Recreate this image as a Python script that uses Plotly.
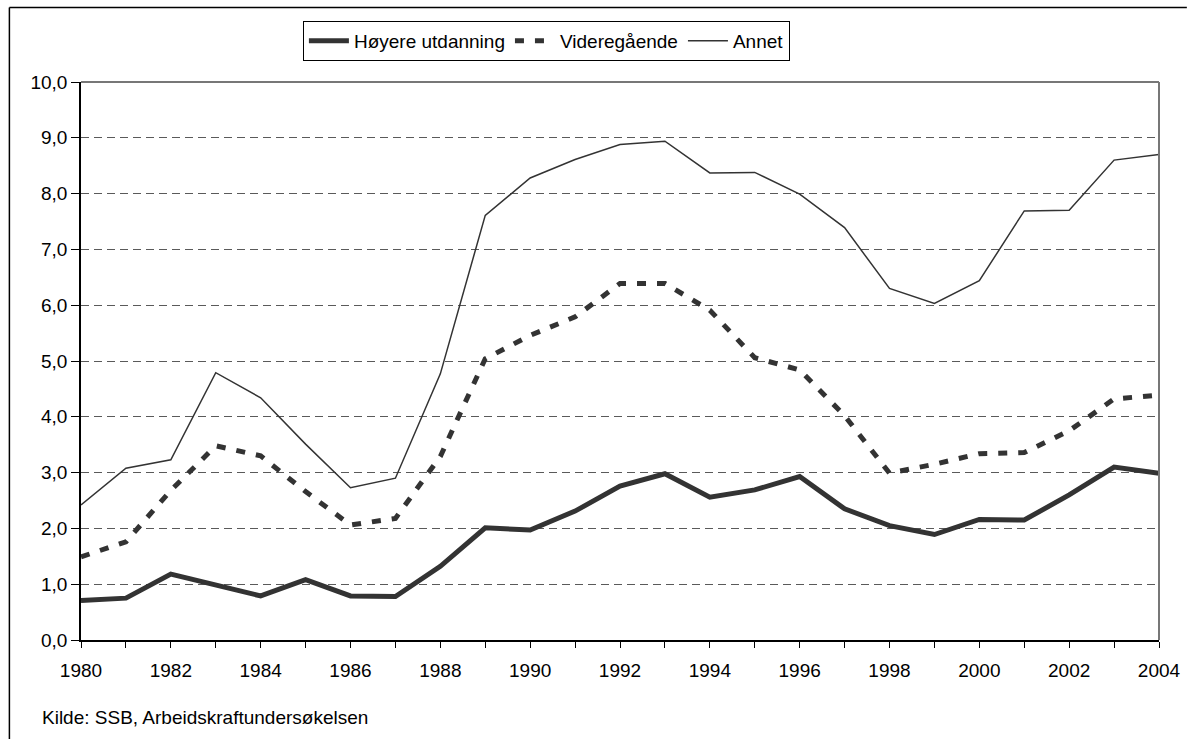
import plotly.graph_objects as go

years = list(range(1980, 2005))
hoyere = [0.71, 0.75, 1.18, 0.99, 0.79, 1.08, 0.79, 0.78, 1.32, 2.01, 1.97, 2.31, 2.76, 2.98,
          2.56, 2.69, 2.93, 2.35, 2.05, 1.89, 2.16, 2.15, 2.60, 3.10, 2.99]
videregaende = [1.49, 1.76, 2.68, 3.48, 3.30, 2.66, 2.06, 2.18, 3.29, 5.04, 5.46, 5.79, 6.39, 6.39,
                5.91, 5.06, 4.84, 4.02, 2.99, 3.15, 3.34, 3.36, 3.75, 4.32, 4.39]
annet = [2.42, 3.08, 3.23, 4.79, 4.34, 3.51, 2.73, 2.90, 4.77, 7.61, 8.28, 8.61, 8.88, 8.94,
         8.37, 8.38, 7.99, 7.39, 6.30, 6.03, 6.44, 7.69, 7.70, 8.60, 8.70]

series_names = ["Høyere utdanning", "Videregående", "Annet"]
y_tickvals = [0, 1, 2, 3, 4, 5, 6, 7, 8, 9, 10]
y_ticktext = ["0,0", "1,0", "2,0", "3,0", "4,0", "5,0", "6,0", "7,0", "8,0", "9,0", "10,0"]
x_ticktext = [str(y) if y % 2 == 0 else "" for y in years]
source = "Kilde: SSB, Arbeidskraftundersøkelsen"

FONT = "Liberation Sans, Arial, sans-serif"
LC = "#333333"
FS = 19

fig = go.Figure()
fig.add_trace(go.Scatter(x=years, y=hoyere, name=series_names[0], mode="lines",
                         line=dict(color=LC, width=5)))
fig.add_trace(go.Scatter(x=years, y=videregaende, name=series_names[1], mode="lines",
                         line=dict(color=LC, width=5, dash="9px,11px")))
fig.add_trace(go.Scatter(x=years, y=annet, name=series_names[2], mode="lines",
                         line=dict(color=LC, width=1.5)))

# body margin is removed in the page, so figure pixels equal page pixels
W, H = 1193, 739
L, R, T, B = 81, 1165, 82, 640


def px(xp):
    return (xp - L) / (R - L)


def py(yp):
    return (B - yp) / (B - T)


fig.update_layout(
    width=W, height=H,
    margin=dict(l=L, r=W - R, t=T, b=H - B),
    paper_bgcolor="white", plot_bgcolor="white",
    font=dict(family=FONT, size=FS, color="black"),
    showlegend=True,
    legend=dict(orientation="h", x=px(549), xanchor="center", y=py(21), yanchor="top",
                bordercolor="black", borderwidth=1, bgcolor="white",
                font=dict(size=FS), itemwidth=40, tracegroupgap=0),
    xaxis=dict(range=[1980, 2004], tickvals=years, ticktext=x_ticktext,
               ticks="outside", ticklen=6, tickcolor="black", tickwidth=1,
               ticklabelstandoff=6,
               showline=True, linecolor="black", linewidth=1.5,
               showgrid=False, zeroline=False, fixedrange=True),
    yaxis=dict(range=[0, 10], tickvals=y_tickvals, ticktext=y_ticktext,
               ticks="outside", ticklen=8, tickcolor="black", tickwidth=1,
               showline=True, linecolor="black", linewidth=1.5,
               showgrid=True, gridcolor="#5a5a5a", gridwidth=1, griddash="8px,5px",
               zeroline=False, fixedrange=True),
    shapes=[
        dict(type="line", xref="paper", yref="paper", x0=0, x1=1, y0=1, y1=1,
             line=dict(color="#777777", width=2)),
        dict(type="line", xref="paper", yref="paper", x0=1, x1=1, y0=0, y1=1,
             line=dict(color="#777777", width=2)),
        dict(type="line", xref="paper", yref="paper", x0=px(9), x1=px(1193), y0=py(7.5), y1=py(7.5),
             line=dict(color="black", width=1.5)),
        dict(type="line", xref="paper", yref="paper", x0=px(9), x1=px(9), y0=py(7.5), y1=py(739),
             line=dict(color="black", width=1.5)),
    ],
    annotations=[
        dict(text=source, xref="paper", yref="paper", x=px(40), y=py(718),
             xanchor="left", yanchor="middle", showarrow=False, font=dict(size=FS)),
    ],
)

fig.write_html("out.html",
               config={"displayModeBar": False},
               post_script="document.body.style.margin='0px';document.body.style.overflow='hidden';")
